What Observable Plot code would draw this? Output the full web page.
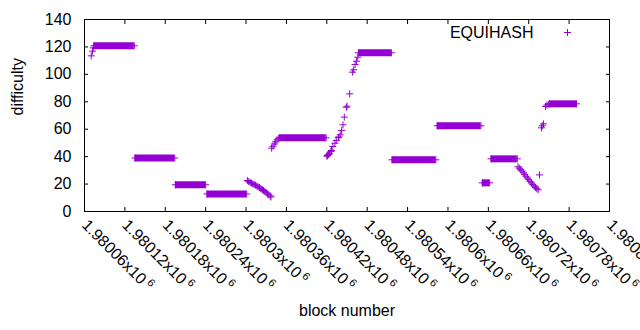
<!DOCTYPE html>
<html><head><meta charset="utf-8">
<script src="https://cdn.jsdelivr.net/npm/d3@7"></script>
<script src="https://cdn.jsdelivr.net/npm/@observablehq/plot@0.6"></script>
<style>html,body{margin:0;padding:0;background:#fff}#chart svg{display:block}</style>
</head><body><div id="chart"></div>
<script>
// Flat runs of constant difficulty (block range -> difficulty)
const runStart = [1980074, 1980135, 1980195, 1980242, 1980350, 1980467, 1980517, 1980584, 1980651, 1980664, 1980751];
const runEnd   = [1980134, 1980194, 1980240, 1980301, 1980419, 1980516, 1980582, 1980649, 1980662, 1980703, 1980791];
const runValue = [120.8, 39.0, 19.5, 12.8, 53.7, 115.7, 37.7, 62.5, 20.9, 38.4, 78.5];

// Individual blocks on the transitions
const pointBlock = [
  1980070, 1980072, 1980073,
  1980302, 1980304, 1980306, 1980308, 1980310, 1980312, 1980314, 1980316, 1980318, 1980320,
  1980322, 1980324, 1980326, 1980328, 1980330, 1980332, 1980334, 1980336, 1980337,
  1980338, 1980340, 1980342, 1980344, 1980346, 1980348,
  1980420, 1980421, 1980422, 1980423, 1980424, 1980426, 1980427, 1980429, 1980432, 1980434,
  1980437, 1980438, 1980440, 1980442, 1980444, 1980446, 1980449, 1980450, 1980454, 1980458,
  1980460, 1980462, 1980464, 1980466,
  1980704, 1980706, 1980708, 1980710, 1980712, 1980714, 1980716, 1980718, 1980720, 1980722,
  1980724, 1980726, 1980728, 1980730, 1980732, 1980734,
  1980736, 1980739, 1980740, 1980742, 1980745, 1980747, 1980749
];
const pointValue = [
  113.5, 116.9, 119.3,
  22.6, 21.8, 21.2, 20.7, 20.2, 19.7, 19.2, 18.6, 18.0, 17.4,
  16.7, 16.0, 15.3, 14.5, 13.7, 12.9, 12.1, 11.3, 10.6,
  46.2, 47.6, 49.2, 50.8, 52.2, 53.3,
  40.3, 40.8, 41.4, 41.6, 42.5, 43.8, 44.5, 47.4, 49.8, 51.8,
  53.9, 54.4, 55.9, 59.1, 63.2, 68.8, 76.0, 76.8, 85.8, 101.6,
  103.3, 107.2, 109.6, 112.5,
  32.6, 31.6, 30.5, 29.5, 28.3, 27.0, 25.7, 24.4, 23.2, 22.0,
  20.8, 19.6, 18.6, 17.6, 16.6, 15.8,
  26.7, 61.0, 62.5, 63.9, 76.6, 77.6, 78.2
];

const xTicks = [1980060, 1980120, 1980180, 1980240, 1980300, 1980360, 1980420, 1980480,
                1980540, 1980600, 1980660, 1980720, 1980780, 1980840];
const yTicks = [0, 20, 40, 60, 80, 100, 120, 140];
const seriesName = "EQUIHASH";
const xLabel = "block number";
const yLabel = "difficulty";

const color = "#9400d3";
const R = 2.4; // gives a '+' about 7px across
const runs = runStart.map((s, i) => ({x1: s, x2: runEnd[i], y: runValue[i]}));
const runEnds = runs.flatMap(r => [{x: r.x1, y: r.y}, {x: r.x2, y: r.y}]);
const points = pointBlock.map((b, i) => ({x: b, y: pointValue[i]}));
const fmt = v => String(+(v / 1e6).toFixed(5)) + "x10^6";

const chart = Plot.plot({
  width: 640, height: 330,
  marginLeft: 84, marginRight: 31, marginTop: 19, marginBottom: 119,
  style: {fontFamily: "'Liberation Sans', Arial, sans-serif", fontSize: "16px", background: "#fff", color: "#000"},
  x: {domain: [1980060, 1980840]},
  y: {domain: [0, 140]},
  marks: [
    Plot.ruleY(runs, {x1: "x1", x2: "x2", y: "y", stroke: color, strokeWidth: 7}),
    Plot.dot(runEnds, {x: "x", y: "y", symbol: "plus", r: R, stroke: color, strokeWidth: 1}),
    Plot.dot(points, {x: "x", y: "y", symbol: "plus", r: R, stroke: color, strokeWidth: 1}),
    Plot.frame({stroke: "#000", strokeWidth: 1}),
    Plot.axisY(yTicks, {anchor: "left", tickSize: -4, tickPadding: 17, label: null}),
    Plot.axisY(yTicks, {anchor: "right", tickSize: -4, tickFormat: () => "", label: null}),
    Plot.axisX(xTicks, {anchor: "bottom", tickSize: -4, tickPadding: 15, tickRotate: 45, textAnchor: "start", tickFormat: fmt, label: null}),
    Plot.axisX(xTicks, {anchor: "top", tickSize: -4, tickFormat: () => "", label: null}),
    Plot.text([yLabel], {frameAnchor: "left", dx: -67, rotate: -90, fill: "#000"}),
    Plot.text([xLabel], {frameAnchor: "bottom", dy: 104, fill: "#000"}),
    Plot.text([seriesName], {frameAnchor: "top-right", dx: -76, dy: 13, textAnchor: "end", lineAnchor: "middle", fill: "#000"}),
    Plot.dot([seriesName], {frameAnchor: "top-right", dx: -42, dy: 13, symbol: "plus", r: R, stroke: color, strokeWidth: 1})
  ]
});
document.getElementById("chart").appendChild(chart);

// render the exponent as a superscript
d3.select(chart).selectAll('g[aria-label="x-axis tick label"] text').each(function () {
  const t = this.textContent;
  const parts = t.split("^");
  if (parts.length < 2) return;
  this.textContent = "";
  const s = d3.select(this);
  s.append("tspan").text(parts[0]);
  s.append("tspan").attr("dx", 3).attr("dy", -6).attr("font-size", "11px").text(parts[1]);
});
</script>
</body></html>
